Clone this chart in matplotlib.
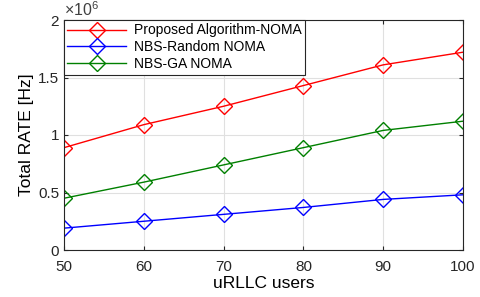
import numpy as np
import matplotlib
matplotlib.use("Agg")
import matplotlib.pyplot as plt
from matplotlib.ticker import FuncFormatter

plt.rcParams['font.family'] = ['Liberation Sans', 'DejaVu Sans']
plt.rcParams['mathtext.fontset'] = 'custom'
plt.rcParams['mathtext.rm'] = 'Liberation Sans'

# data
users = [50, 60, 70, 80, 90, 100]
proposed = [0.89e6, 1.09e6, 1.25e6, 1.43e6, 1.61e6, 1.72e6]
nbs_random = [0.19e6, 0.25e6, 0.31e6, 0.37e6, 0.44e6, 0.48e6]
nbs_ga = [0.45e6, 0.59e6, 0.74e6, 0.89e6, 1.04e6, 1.12e6]
yticks = [0, 0.5e6, 1e6, 1.5e6, 2e6]

fig = plt.figure(figsize=(4.8, 2.97), dpi=100)
ax = fig.add_axes([64/480, 47/297, 399/480, 230/297])

mk = dict(marker='D', markersize=8, markerfacecolor='none', markeredgewidth=1.0, linewidth=1.0)
ax.plot(users, proposed, color='#ff0000', label='Proposed Algorithm-NOMA', **mk)
ax.plot(users, nbs_random, color='#0000ff', label='NBS-Random NOMA', **mk)
ax.plot(users, nbs_ga, color='#008000', label='NBS-GA NOMA', **mk)

ax.set_xlim(50, 100)
ax.set_ylim(0, 2e6)
ax.set_xticks(users)
ax.set_yticks(yticks)
ax.yaxis.set_major_formatter(FuncFormatter(lambda v, p: '%g' % (v / 1e6)))
ax.text(0.0, 1.005, r'$\times10^{6}$', transform=ax.transAxes, fontsize=11.5,
        color='#404040', ha='left', va='bottom')

ax.grid(True, color='#e0e0e0', linewidth=0.8)
ax.tick_params(labelsize=11, direction='in', length=3, colors='#262626',
               top=True, right=True)
ax.tick_params(axis='x', pad=7)
for s in ax.spines.values():
    s.set_color('#262626')
    s.set_linewidth(0.8)

ax.set_xlabel('uRLLC users', fontsize=12.5, labelpad=2)
ax.set_ylabel('Total RATE [Hz]', fontsize=12.5, labelpad=3)

leg = ax.legend(loc='upper left', fontsize=10, fancybox=False, framealpha=1,
                edgecolor='#262626', borderaxespad=0, handlelength=4.2,
                borderpad=0.25, labelspacing=0.2, handletextpad=0.6)
leg.get_frame().set_linewidth(0.8)

fig.savefig('out.png', dpi=100)
